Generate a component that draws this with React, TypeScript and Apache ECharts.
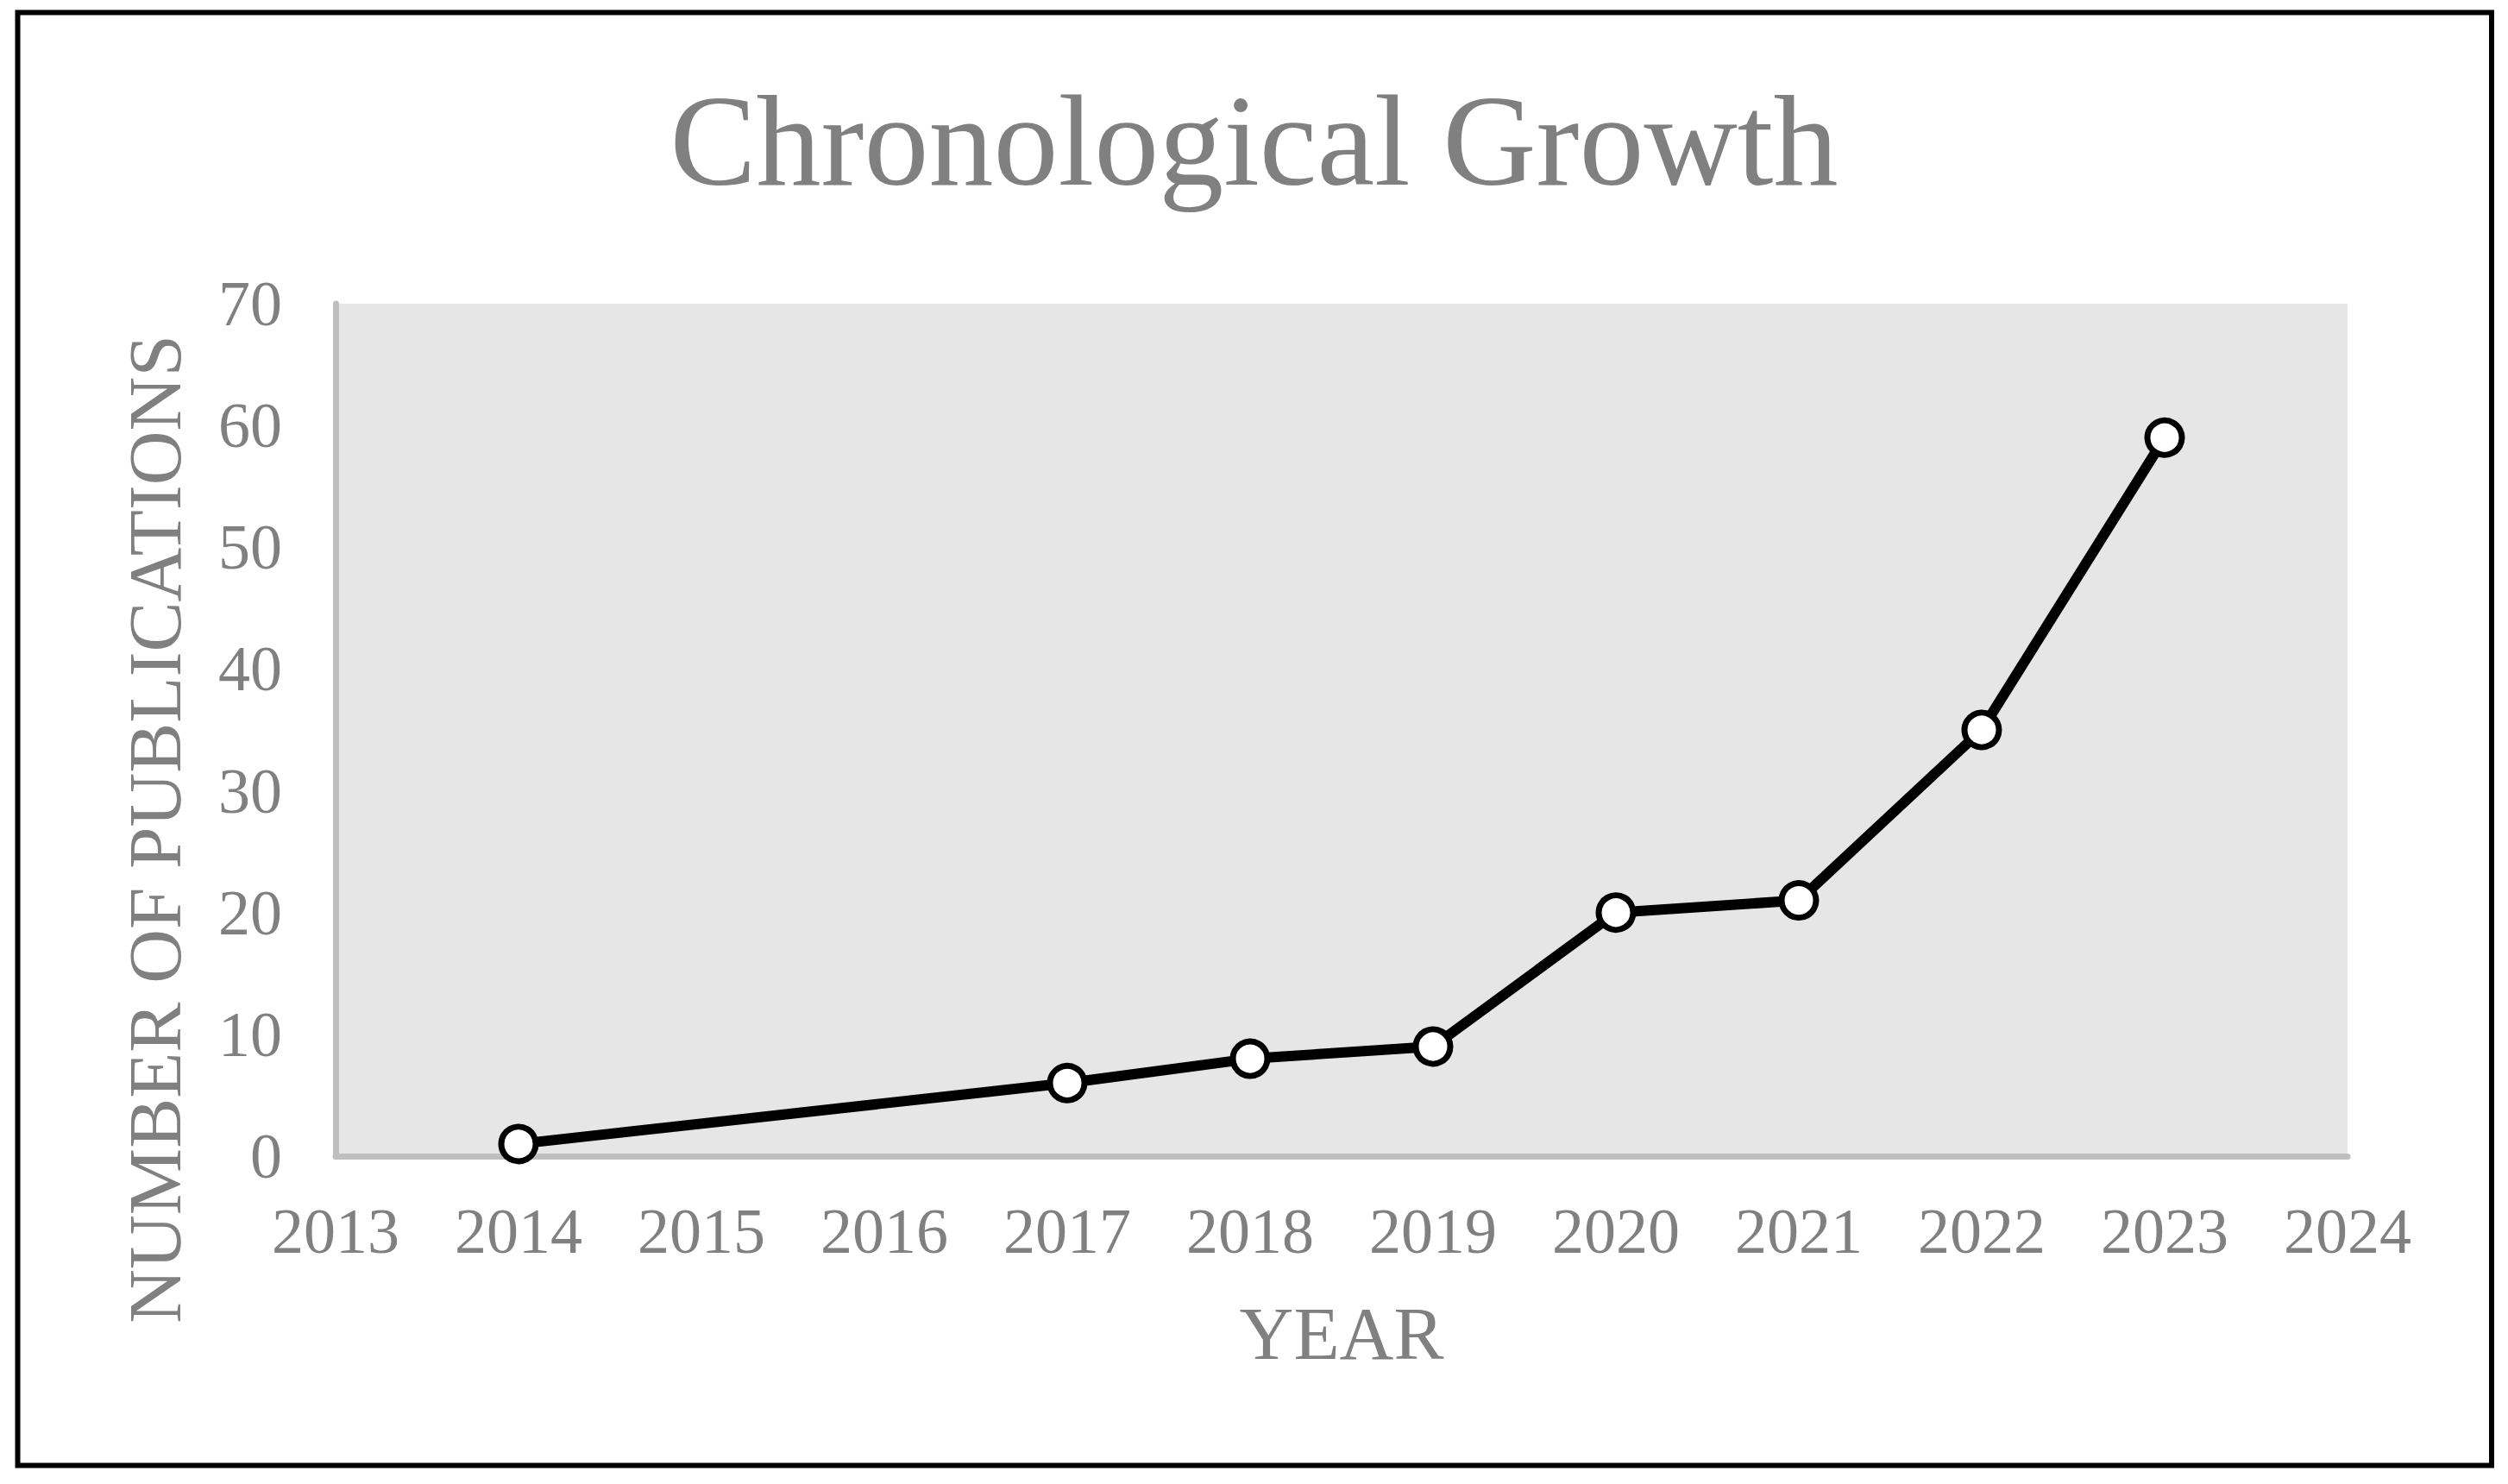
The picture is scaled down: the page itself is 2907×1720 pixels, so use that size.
import React, { useEffect, useRef } from "react";
import * as echarts from "echarts";

const years = [2014, 2017, 2018, 2019, 2020, 2021, 2022, 2023];
const publications = [1, 6, 8, 9, 20, 21, 35, 59];
const titleText = "Chronological Growth";
const xAxisName = "YEAR";
const yAxisName = "NUMBER OF PUBLICATIONS";
const xMin = 2013;
const xMax = 2024;
const yMin = 0;
const yMax = 70;
const yStep = 10;

const FONT = "'Liberation Serif', 'Times New Roman', serif";
const GREY = "#808080";

export default function App() {
  const ref = useRef<HTMLDivElement>(null);
  useEffect(() => {
    document.body.style.margin = "0";
    const chart = echarts.init(ref.current!, null, { renderer: "svg" });
    const data = years.map((y, i) => [y, publications[i]]);
    chart.setOption({
      animation: false,
      backgroundColor: "#ffffff",
      title: {
        text: titleText,
        left: "center",
        top: 83,
        textStyle: { fontFamily: FONT, fontSize: 150, fontWeight: "normal", color: GREY },
      },
      grid: {
        left: 389,
        right: 186,
        top: 352,
        bottom: 380,
        show: true,
        backgroundColor: "#e6e6e6",
        borderWidth: 0,
      },
      xAxis: {
        type: "value",
        min: xMin,
        max: xMax,
        interval: 1,
        name: xAxisName,
        nameLocation: "middle",
        nameGap: 162,
        nameTextStyle: { fontFamily: FONT, fontSize: 87, color: GREY },
        axisLine: { show: true, lineStyle: { color: "#bfbfbf", width: 7 } },
        axisTick: { show: false },
        splitLine: { show: false },
        axisLabel: {
          fontFamily: FONT,
          fontSize: 74,
          color: GREY,
          margin: 50,
          formatter: (v: number) => String(v),
        },
      },
      yAxis: {
        type: "value",
        min: yMin,
        max: yMax,
        interval: yStep,
        axisLine: { show: true, lineStyle: { color: "#bfbfbf", width: 7 } },
        axisTick: { show: false },
        splitLine: { show: false },
        axisLabel: { fontFamily: FONT, fontSize: 74, color: GREY, margin: 62 },
      },
      graphic: [
        {
          type: "rect",
          shape: { x: 20.5, y: 14.5, width: 2867.5, height: 1684 },
          style: { fill: "none", stroke: "#000", lineWidth: 6 },
          silent: true,
        },
        {
          type: "text",
          x: 179,
          y: 961,
          rotation: Math.PI / 2,
          style: {
            text: yAxisName,
            font: `87px ${FONT}`,
            fill: GREY,
            align: "center",
            verticalAlign: "middle",
          },
        },
      ],
      series: [
        {
          type: "line",
          data,
          lineStyle: { color: "#000", width: 12 },
          symbol: "circle",
          symbolSize: 40,
          itemStyle: { color: "#fff", borderColor: "#000", borderWidth: 7 },
          z: 3,
        },
      ],
    });
    return () => chart.dispose();
  }, []);
  return (
    <div
      ref={ref}
      style={{ position: "fixed", left: 0, top: 0, width: 2907, height: 1720 }}
    />
  );
}
